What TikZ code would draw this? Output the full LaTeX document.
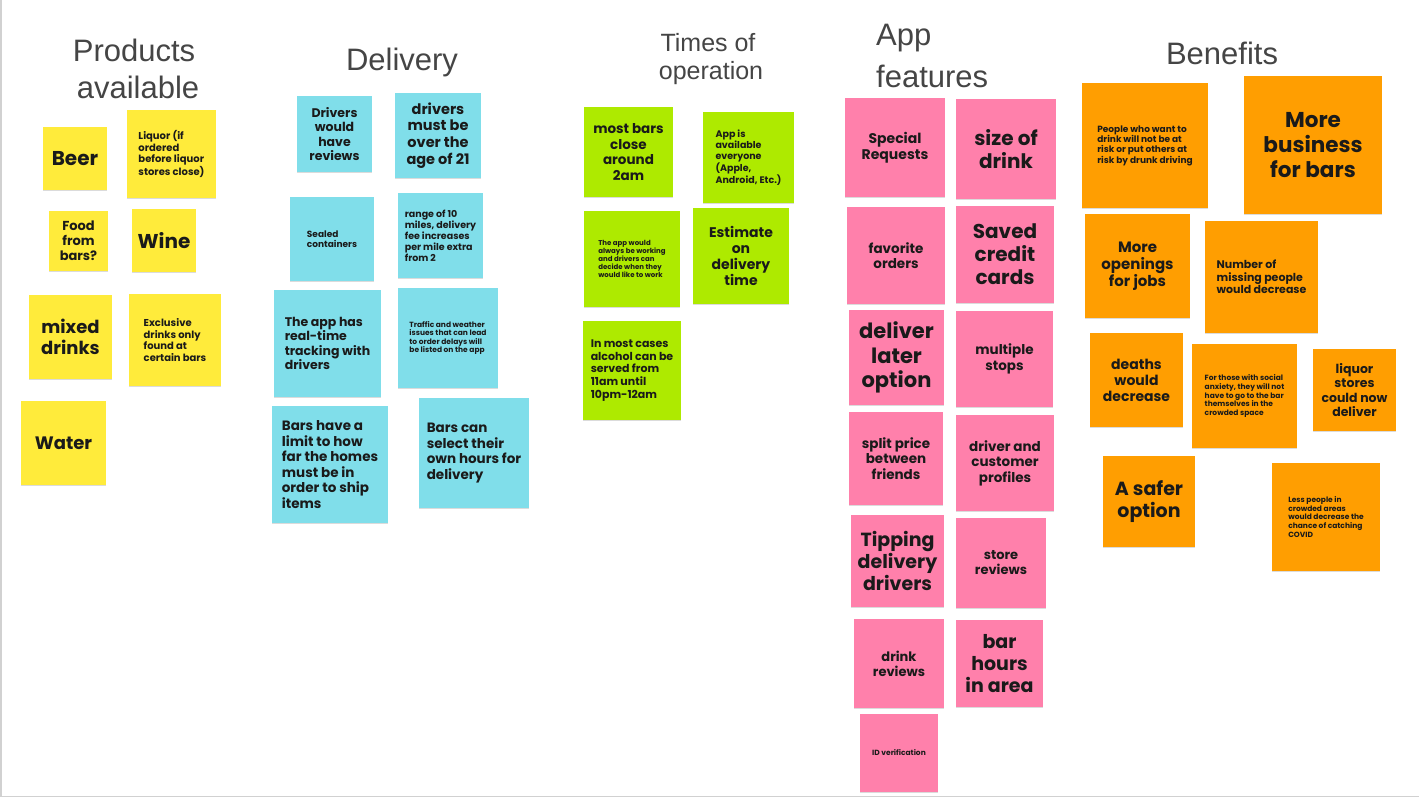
\documentclass[tikz,border=0pt]{standalone}
\usepackage{fontspec}
\usetikzlibrary{shadows}
\newfontfamily\nf{Poppins}
\newfontfamily\hf{Liberation Sans}
\newcommand\nfs[1]{\fontsize{#1}{\fpeval{1.15*#1}}\selectfont}
\definecolor{yel}{HTML}{FFEB3B}
\definecolor{blu}{HTML}{80DEEA}
\definecolor{grn}{HTML}{AEEA00}
\definecolor{pnk}{HTML}{FF80AB}
\definecolor{org}{HTML}{FF9E01}
\definecolor{hdr}{HTML}{454545}
\definecolor{ink}{HTML}{1A1A1A}
\tikzset{
  note/.style={fill=#1, inner sep=0pt, align=center, text=ink,
    drop shadow={shadow xshift=0.4pt, shadow yshift=-1.3pt, opacity=0.14, fill=black}},
  fs/.style={font=\nf\bfseries\nfs{#1}},
  sz/.style 2 args={minimum width=#1, minimum height=#2},
  hd/.style={font=\hf\fontsize{#1}{#1}\selectfont, text=hdr, inner sep=0pt, align=center}
}
\begin{document}
\begin{tikzpicture}[x=1pt,y=-1pt]
\useasboundingbox (0,0) rectangle (1419,798);
\fill[white] (0,0) rectangle (1419,798);
\draw[black!18, line width=1.5pt] (0.75,0) -- (0.75,796.5) -- (1419,796.5);
% headers
\node[hd=31] (hprod1) at (134,50) {Products};
\node[hd=31] (hprod2) at (138,87) {available};
\node[hd=31] (hdel) at (402,62) {Delivery};
\node[hd=25] (htim1) at (708,43) {Times of};
\node[hd=25] (htim2) at (711,73) {operation};
\node[hd=31, anchor=west] (happ1) at (876,38) {App};
\node[hd=31, anchor=west] (happ2) at (876,76) {features};
\node[hd=31] (hben) at (1222,53) {Benefits};
% yellow
\node[note=yel, sz={64pt}{63pt}, fs=20] (beer) at (75,158.5) {Beer};
\node[note=yel, sz={89pt}{88pt}, fs=10, align=left] (liquor) at (171.5,154) {Liquor (if\\ordered\\before liquor\\stores close)};
\node[note=yel, sz={59pt}{60pt}, fs=13] (food) at (78.5,241) {Food\\from\\bars?};
\node[note=yel, sz={64pt}{63pt}, fs=20] (wine) at (164,240.5) {Wine};
\node[note=yel, sz={83pt}{84pt}, fs=18] (mixed) at (70.5,337) {mixed\\drinks};
\node[note=yel, sz={92pt}{92pt}, fs=10, align=left] (excl) at (175,340) {Exclusive\\drinks only\\found at\\certain bars};
\node[note=yel, sz={85pt}{84pt}, fs=18] (water) at (63.5,443) {Water};
% blue
\node[note=blu, sz={75pt}{76pt}, fs=12.5] (drvrev) at (334.5,134) {Drivers\\would\\have\\reviews};
\node[note=blu, sz={86pt}{85pt}, fs=14.5] (drv21) at (438,135.5) {drivers\\must be\\over the\\age of 21};
\node[note=blu, sz={84pt}{84pt}, fs=9, align=left] (sealed) at (332,239) {Sealed\\containers};
\node[note=blu, sz={85pt}{85pt}, fs=9.5, align=left] (range) at (440.5,235.5) {range of 10\\miles, delivery\\fee increases\\per mile extra\\from 2};
\node[note=blu, sz={107pt}{107pt}, fs=12.5, align=left] (track) at (327.5,343.5) {The app has\\real-time\\tracking with\\drivers};
\node[note=blu, sz={100pt}{100pt}, fs=7.5, align=left] (traffic) at (448,338) {Traffic and weather\\issues that can lead\\to order delays will\\be listed on the app};
\node[note=blu, sz={116pt}{117pt}, fs=13.5, align=left] (limit) at (330,464.5) {Bars have a\\limit to how\\far the homes\\must be in\\order to ship\\items};
\node[note=blu, sz={110pt}{110pt}, fs=13.5, align=left] (select) at (474,453) {Bars can\\select their\\own hours for\\delivery};
% green
\node[note=grn, sz={89pt}{90pt}, fs=13.5] (close) at (628.5,152) {most bars\\close\\around\\2am};
\node[note=grn, sz={91pt}{91pt}, fs=9.5, align=left] (avail) at (748.5,157.5) {App is\\available\\everyone\\(Apple,\\Android, Etc.)};
\node[note=grn, sz={96pt}{96pt}, fs=7, align=left] (working) at (632,259) {The app would\\always be working\\and drivers can\\decide when they\\would like to work};
\node[note=grn, sz={96pt}{96pt}, fs=14] (estimate) at (741,256) {Estimate\\on\\delivery\\time};
\node[note=grn, sz={98pt}{99pt}, fs=11, align=left] (served) at (632,370.5) {In most cases\\alcohol can be\\served from\\11am until\\10pm-12am};
% pink
\node[note=pnk, sz={100pt}{99pt}, fs=14] (special) at (895,147.5) {Special\\Requests};
\node[note=pnk, sz={100pt}{100pt}, fs=20] (size) at (1006,149) {size of\\drink};
\node[note=pnk, sz={98pt}{97pt}, fs=13.5] (fav) at (896,255.5) {favorite\\orders};
\node[note=pnk, sz={98pt}{97pt}, fs=20] (saved) at (1005,254.5) {Saved\\credit\\cards};
\node[note=pnk, sz={95pt}{95pt}, fs=21] (later) at (896.5,357.5) {deliver\\later\\option};
\node[note=pnk, sz={97pt}{96pt}, fs=13.5] (stops) at (1004.5,359) {multiple\\stops};
\node[note=pnk, sz={94pt}{93pt}, fs=13.5] (split) at (896,458.5) {split price\\between\\friends};
\node[note=pnk, sz={98pt}{96pt}, fs=13.5] (profiles) at (1005,463) {driver and\\customer\\profiles};
\node[note=pnk, sz={93pt}{92pt}, fs=19] (tipping) at (897.5,561) {Tipping\\delivery\\drivers};
\node[note=pnk, sz={90pt}{90pt}, fs=13] (store) at (1001,563) {store\\reviews};
\node[note=pnk, sz={90pt}{89pt}, fs=13] (drink) at (899,663.5) {drink\\reviews};
\node[note=pnk, sz={87pt}{87pt}, fs=19] (barhours) at (999.5,663.5) {bar\\hours\\in area};
\node[note=pnk, sz={78pt}{78pt}, fs=7.5] (idver) at (899,753) {ID verification};
% orange
\node[note=org, sz={126pt}{125pt}, fs=9, align=left] (people) at (1145,145.5) {People who want to\\drink will not be at\\risk or put others at\\risk by drunk driving};
\node[note=org, sz={138pt}{138pt}, fs=21.5] (business) at (1313,145) {More\\business\\for bars};
\node[note=org, sz={105pt}{104pt}, fs=15] (jobs) at (1137.5,266) {More\\openings\\for jobs};
\node[note=org, sz={113pt}{112pt}, fs=11, align=left] (missing) at (1261.5,277) {Number of\\missing people\\would decrease};
\node[note=org, sz={93pt}{94pt}, fs=14] (deaths) at (1136.5,380) {deaths\\would\\decrease};
\node[note=org, sz={105pt}{104pt}, fs=7.5, align=left] (anxiety) at (1244.5,396) {For those with social\\anxiety, they will not\\have to go to the bar\\themselves in the\\crowded space};
\node[note=org, sz={83pt}{82pt}, fs=12.5] (liqst) at (1354.5,390) {liquor\\stores\\could now\\deliver};
\node[note=org, sz={92pt}{91pt}, fs=19] (safer) at (1149,501.5) {A safer\\option};
\node[note=org, sz={108pt}{108pt}, fs=7.5, align=left] (covid) at (1326,517) {Less people in\\crowded areas\\would decrease the\\chance of catching\\COVID};
\end{tikzpicture}
\end{document}
